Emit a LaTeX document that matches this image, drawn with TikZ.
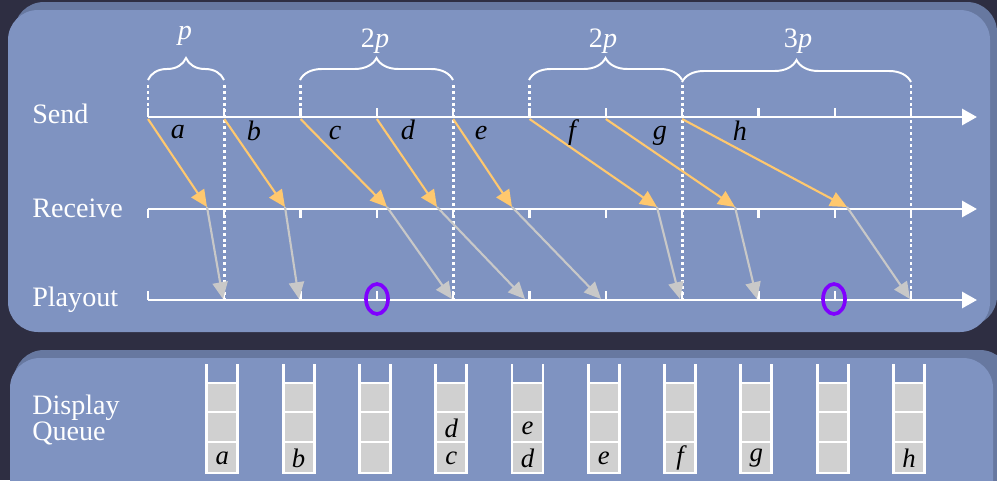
\documentclass[tikz,border=0pt]{standalone}
\usepackage{fontspec}
\setmainfont{Liberation Serif}
\usepackage{xcolor}
\usepackage{tikz}
\usetikzlibrary{arrows.meta, decorations.pathreplacing, shapes.geometric, positioning}

\definecolor{backdrop}{RGB}{46,46,66}
\definecolor{panel}{RGB}{127,147,193}
\definecolor{bevel}{RGB}{103,120,160}
\definecolor{sendorange}{RGB}{255,200,110}
\definecolor{playgray}{RGB}{200,200,200}
\definecolor{cellgray}{RGB}{208,208,208}
\definecolor{skipviolet}{RGB}{127,0,255}

\begin{document}
\begin{tikzpicture}[x=0.025cm, y=-0.025cm,
            rowname/.style={text=white, inner sep=0pt, anchor=base west, font=\fontsize{20}{18.5}\selectfont},
            timeline/.style={white, line width=2.1pt, -{Triangle[length=0.375cm, width=0.4cm]}},
            tickmark/.style={white, line width=1.6pt},
            boundary/.style={white, line width=2pt, dash pattern=on 2.1pt off 2.1pt},
            period/.style={white, line width=1.4pt, decorate, decoration={brace, amplitude=0.55cm}},
            periodname/.style={text=white, anchor=base, font=\fontsize{20}{24}\selectfont},
            transit/.style={sendorange, line width=1.5pt, -{Triangle[length=0.42cm, width=0.38cm]}},
            buffered/.style={playgray, line width=1.5pt, -{Triangle[length=0.42cm, width=0.38cm]}},
            pkt/.style={text=black, font=\fontsize{20}{24}\selectfont\itshape},
            qpkt/.style={text=black, font=\fontsize{19}{22}\selectfont\itshape},
            skipmark/.style={draw=skipviolet, line width=2.6pt, ellipse, inner sep=0pt, minimum width=0.55cm, minimum height=0.75cm},
            queuewall/.style={white, line width=2.1pt}]

            \useasboundingbox (0,0) rectangle (997,480);
            \fill[backdrop] (0,0) rectangle (997,480);

            \fill[bevel, rounded corners=0.75cm] (14,2) rectangle (997,326);
            \fill[panel, rounded corners=0.75cm] (8,10) rectangle (990,332);
            \fill[bevel, rounded corners=0.75cm] (14,350) rectangle (1010,520);
            \fill[panel, rounded corners=0.75cm] (10,358) rectangle (993,520);

            \node[rowname] (send) at (32,123) {Send};
            \node[rowname] (receive) at (32,217) {Receive};
            \node[rowname] (playout) at (32,306) {Playout};
            \node[rowname, anchor=west, align=left] (queue) at (32,420) {Display\\Queue};

            \foreach \i in {0,...,10} {
                \pgfmathsetmacro{\tx}{148+76.3*\i}
                \coordinate (snd\i) at (\tx,119);
                \draw[tickmark] (\tx,108) -- (\tx,117);
                \draw[tickmark] (\tx,209) -- (\tx,218);
                \draw[tickmark] (\tx,291) -- (\tx,300);
            }
            \draw[timeline] (148,117) -- (977,117);
            \draw[timeline] (148,209) -- (977,209);
            \draw[timeline] (148,300) -- (977,300);

            \foreach \i in {0,2,5}
                \draw[boundary] (148+76.3*\i,85) -- (148+76.3*\i,116);
            \foreach \i in {1,4,7,10}
                \draw[boundary] (148+76.3*\i,85) -- (148+76.3*\i,299);

            \draw[period] (148,80) -- (224,80) node[midway] (brace1) {};
            \draw[period] (300,80) -- (453,80) node[midway] (brace2) {};
            \draw[period] (529,80) -- (682,80) node[midway] (brace3) {};
            \draw[period] (682,82) -- (911,82) node[midway] (brace4) {};
            \node[periodname] (len1) at (185,39) {\textit{p}};
            \node[periodname] (len2) at (375,47) {2\textit{p}};
            \node[periodname] (len3) at (603,47) {2\textit{p}};
            \node[periodname] (len4) at (798,47) {3\textit{p}};

            \foreach \k/\i/\rx/\px/\lx/\ly in {a/0/207/223/178/132, b/1/285/299/254/131,
                    c/2/387/452/335/133, d/3/437/525/408/130, e/4/512/601/481/133,
                    f/5/657/680/572/133, g/6/735/757/660/136, h/7/847/910/740/131} {
                \coordinate (rcv\k) at (\rx,207);
                \coordinate (out\k) at (\px,299);
                \draw[transit] (snd\i) -- (rcv\k);
                \draw[buffered] (rcv\k) -- (out\k);
                \node[pkt] (lbl\k) at (\lx,\ly) {\k};
            }

            \node[skipmark] (skip1) at (377,299) {};
            \node[skipmark] (skip2) at (834,299) {};

            \foreach \q in {1,...,10} {
                \pgfmathsetmacro{\qx}{146+76.3*\q}
                \fill[cellgray] (\qx-15.5,383) rectangle (\qx+15.5,473);
                \draw[queuewall] (\qx-15.5,364) -- (\qx-15.5,473) -- (\qx+15.5,473) -- (\qx+15.5,364);
                \foreach \yy in {383,412,442}
                    \draw[queuewall] (\qx-15.5,\yy) -- (\qx+15.5,\yy);
                \coordinate (slot\q) at (\qx,458);
            }
            \foreach \q/\k in {1/a, 2/b, 4/c, 5/d, 6/e, 7/f, 8/g, 10/h}
                \node[qpkt] (head\q) at (slot\q) {\k};
            \node[qpkt, above=0.75cm of head4.center, anchor=center] (next4) {d};
            \node[qpkt, above=0.75cm of head5.center, anchor=center] (next5) {e};

        \end{tikzpicture}
\end{document}
